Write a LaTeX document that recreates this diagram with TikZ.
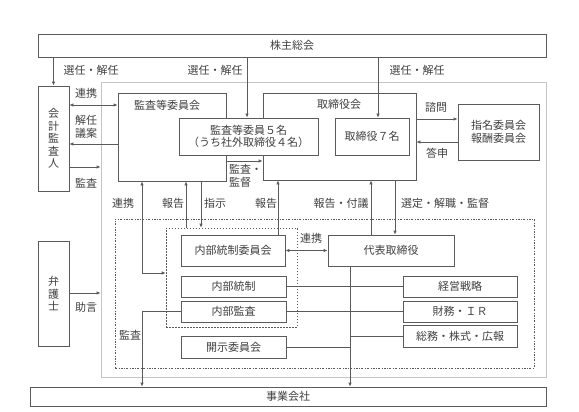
\documentclass[tikz,border=0pt]{standalone}
\usepackage{fontspec}
\setmainfont{Noto Sans CJK JP}
\usetikzlibrary{arrows.meta}
\definecolor{linegray}{HTML}{5A5A5A}
\definecolor{framegray}{HTML}{C4C4C4}
\definecolor{textgray}{HTML}{404040}
\tikzset{
	box/.style={draw=linegray,fill=white,line width=.8pt,inner sep=0pt,align=center},
	lbl/.style={inner sep=0pt,align=center},
	arr/.style={draw=linegray,line width=.8pt,-{Latex[length=4pt,width=3.5pt]}},
	both/.style={draw=linegray,line width=.8pt,{Latex[length=4pt,width=3.5pt]}-{Latex[length=4pt,width=3.5pt]}},
	wire/.style={draw=linegray,line width=.8pt}
}
\begin{document}
\begin{tikzpicture}[x=1pt,y=-1pt,font=\fontsize{11}{12.5}\selectfont,text=textgray]
	\useasboundingbox (0,0) rectangle (579,412);

	% frames
	\node [draw=framegray,line width=.8pt,inner sep=0pt,minimum width=445,minimum height=295] (grp) at (323.5,229.5) {};
	\node [draw=linegray,line width=.6pt,dash pattern=on 2pt off 1.5pt on .6pt off 1.5pt,inner sep=0pt,minimum width=419,minimum height=149] (ops) at (324.5,293.5) {};
	\node [draw=linegray,line width=.6pt,dash pattern=on 1.5pt off 1.5pt,inner sep=0pt,minimum width=131,minimum height=99] (inner) at (231.5,277.5) {};

	% top
	\node [box,minimum width=508,minimum height=23] (agm) at (292,45.5) {株主総会};
	\node [box,minimum width=31,minimum height=105] (auditor) at (53.5,138.5) {会\\計\\監\\査\\人};
	\node [box,minimum width=31,minimum height=105] (lawyer) at (53.5,293.5) {弁\\護\\士};

	\node [box,minimum width=108,minimum height=88] (acc) at (172,137) {};
	\node [lbl] (acctitle) at (167,105) {監査等委員会};
	\node [box,minimum width=153,minimum height=87] (board) at (339.5,136.5) {};
	\node [lbl] (boardtitle) at (339,104) {取締役会};
	\node [box,minimum width=139,minimum height=37] (acm) at (248.5,136.5) {監査等委員５名\\（うち社外取締役４名）};
	\node [box,minimum width=74,minimum height=37] (dir) at (372,136.5) {取締役７名};
	\node [box,minimum width=81,minimum height=56] (nom) at (498.5,132) {指名委員会\\報酬委員会};

	% inside
	\node [box,minimum width=104,minimum height=31] (icc) at (233,250.5) {内部統制委員会};
	\node [box,minimum width=105,minimum height=21] (ic) at (233.5,286.5) {内部統制};
	\node [box,minimum width=105,minimum height=21] (ia) at (233.5,311.5) {内部監査};
	\node [box,minimum width=105,minimum height=22] (disc) at (233.5,347) {開示委員会};
	\node [box,minimum width=126,minimum height=31] (ceo) at (391,250.5) {代表取締役};
	\node [box,minimum width=114,minimum height=21] (strat) at (460,286.5) {経営戦略};
	\node [box,minimum width=114,minimum height=21] (fin) at (460,311.5) {財務・ＩＲ};
	\node [box,minimum width=114,minimum height=22] (ga) at (460,336) {総務・株式・広報};

	\node [box,minimum width=516,minimum height=19] (biz) at (288,396.5) {事業会社};

	% connectors
	\draw [arr] (agm.south -| auditor.north) -- (auditor.north);
	\draw [arr] (agm.south -| 247,0) -- (acm.north -| 247,0);
	\draw [arr] (agm.south -| 378,0) -- (dir.north -| 378,0);
	\draw [both] (auditor.east |- 0,105) -- (acc.west |- 0,105);
	\draw [arr] (acc.west |- 0,144) -- (auditor.east |- 0,144);
	\draw [arr] (auditor.east |- 0,167) -- (grp.west |- 0,167);
	\draw [arr] (acc.east |- 0,161) -- (board.west |- 0,161);
	\draw [arr] (board.east |- 0,119) -- (nom.west |- 0,119);
	\draw [arr] (nom.west |- 0,142) -- (board.east |- 0,142);

	\draw [both] (acc.south -| 142,0) -- (142,273) -- (inner.west |- 0,273);
	\draw [arr] (inner.north -| 186,0) -- (acc.south -| 186,0);
	\draw [arr] (acc.south -| 201,0) -- (inner.north -| 201,0);
	\draw [arr] (icc.north -| 278,0) -- (board.south -| 278,0);
	\draw [arr] (ceo.north -| 371,0) -- (board.south -| 371,0);
	\draw [arr] (board.south -| 395,0) -- (ceo.north -| 395,0);
	\draw [both] (icc.east) -- (ceo.west);

	\draw [wire] (ic.east) -- (strat.west);
	\draw [wire] (ia.east) -- (fin.west);
	\draw [wire] (disc.east) -- (disc.east -| 350,0);
	\draw [wire] (ga.west) -- (ga.west -| 350,0);
	\draw [arr] (ceo.south -| 350,0) -- (biz.north -| 350,0);
	\draw [arr] (ia.west) -- (ia.west -| 142,0) -- (biz.north -| 142,0);
	\draw [arr] (lawyer.east |- 0,293) -- (grp.west |- 0,293);

	% labels
	\node [lbl] (l1) at (91,70) {選任・解任};
	\node [lbl] (l2) at (215,70) {選任・解任};
	\node [lbl] (l3) at (417,70) {選任・解任};
	\node [lbl] (l4) at (86,93) {連携};
	\node [lbl] (l5) at (86,127) {解任\\議案};
	\node [lbl] (l6) at (86,183) {監査};
	\node [lbl,anchor=west,align=left] (l7) at (229,176) {監査・\\監督};
	\node [lbl] (l8) at (436,107) {諮問};
	\node [lbl] (l9) at (437,153) {答申};
	\node [lbl] (l10) at (123,203) {連携};
	\node [lbl] (l11) at (173,203) {報告};
	\node [lbl] (l12) at (215,203) {指示};
	\node [lbl] (l13) at (266,203) {報告};
	\node [lbl] (l14) at (341,203) {報告・付議};
	\node [lbl] (l15) at (445,203) {選定・解職・監督};
	\node [lbl] (l16) at (311,238) {連携};
	\node [lbl] (l17) at (130,335) {監査};
	\node [lbl] (l18) at (86,307) {助言};
\end{tikzpicture}
\end{document}
